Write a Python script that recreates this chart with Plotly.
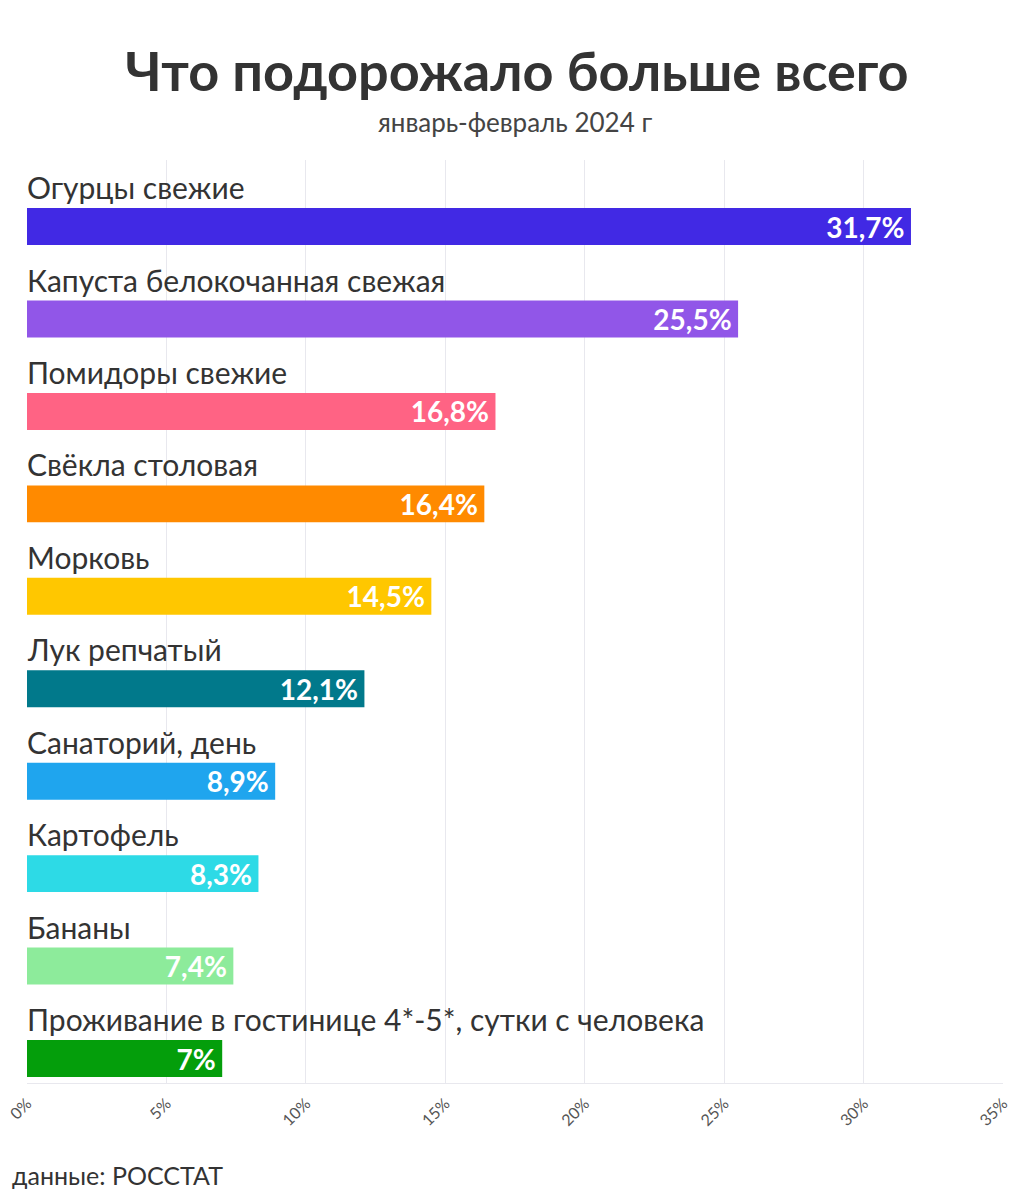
import plotly.graph_objects as go

categories = [
    "Огурцы свежие",
    "Капуста белокочанная свежая",
    "Помидоры свежие",
    "Свёкла столовая",
    "Морковь",
    "Лук репчатый",
    "Санаторий, день",
    "Картофель",
    "Бананы",
    "Проживание в гостинице 4*-5*, сутки с человека",
]
values = [31.7, 25.5, 16.8, 16.4, 14.5, 12.1, 8.9, 8.3, 7.4, 7.0]
value_labels = ["31,7%", "25,5%", "16,8%", "16,4%", "14,5%", "12,1%", "8,9%", "8,3%", "7,4%", "7%"]
colors = ["#4129e4", "#9156e8", "#ff6384", "#ff8a00", "#ffc700",
          "#01798b", "#1fa5ee", "#2ddae6", "#8deb9b", "#049e0b"]
tick_vals = [0, 5, 10, 15, 20, 25, 30, 35]
tick_text = ["0%", "5%", "10%", "15%", "20%", "25%", "30%", "35%"]

FONT = "Lato"
positions = list(range(len(categories)))

W, H = 1034, 1200
ML, MR, MT, MB = 27, 31, 160, 117
plot_w = W - ML - MR
plot_h = H - MT - MB

def px_x(pix):
    return (pix - ML) / plot_w

def px_y(pix):
    return (H - MB - pix) / plot_h

fig = go.Figure()
fig.add_trace(go.Bar(
    x=values, y=positions, orientation="h",
    width=0.4,
    marker=dict(color=colors, line=dict(width=0)),
    text=[t + "\u2009" for t in value_labels],
    textposition="inside", insidetextanchor="end",
    textfont=dict(family=FONT, size=28, color="white", weight="bold"),
    constraintext="none", cliponaxis=False, hoverinfo="skip",
))

for i, c in enumerate(categories):
    fig.add_annotation(
        x=0, y=i - 0.2, xref="x", yref="y", text=c, showarrow=False,
        xanchor="left", yanchor="bottom", yshift=1, xshift=-2,
        font=dict(family=FONT, size=30, color="#333333"),
    )

fig.add_annotation(
    x=0.5, y=px_y(122), xref="paper", yref="paper", text="январь-февраль 2024 г",
    showarrow=False, xanchor="center", yanchor="middle",
    font=dict(family=FONT, size=26, color="#444444"),
)
fig.add_annotation(
    x=px_x(10), y=px_y(1175), xref="paper", yref="paper",
    text="данные: РОССТАТ", showarrow=False, xanchor="left", yanchor="middle",
    font=dict(family=FONT, size=25, color="#333333"),
)

fig.update_layout(
    width=W, height=H,
    margin=dict(l=ML, r=MR, t=MT, b=MB, autoexpand=False),
    paper_bgcolor="white", plot_bgcolor="white",
    showlegend=False,
    uniformtext=dict(minsize=28, mode="show"),
    title=dict(
        text="<b>Что подорожало больше всего</b>",
        x=0.5, xanchor="center", y=1 - 72 / H, yanchor="middle",
        font=dict(family=FONT, size=54, color="#333333"),
    ),
    xaxis=dict(
        range=[0, 35], tickvals=tick_vals, ticktext=tick_text,
        tickangle=-45, showgrid=True, gridcolor="#e8e8ee", gridwidth=1,
        zeroline=False, showline=True, linecolor="#e8e8ee",
        tickfont=dict(family=FONT, size=16, color="#555555"),
        ticks="", ticklabelstandoff=4, fixedrange=True, automargin=False,
    ),
    yaxis=dict(
        range=[9.265, -0.72], showticklabels=False, showgrid=False,
        zeroline=False, fixedrange=True, automargin=False,
    ),
)

fig.write_html("out.html")
